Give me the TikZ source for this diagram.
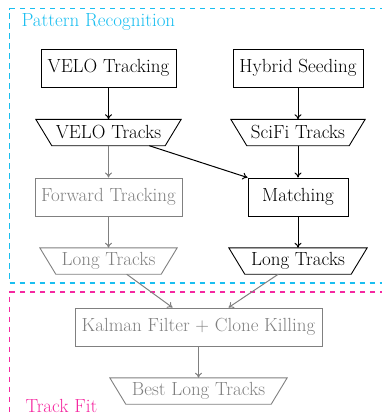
\documentclass[tikz,border=0pt]{standalone}
\usetikzlibrary{arrows.meta}
\definecolor{prblue}{RGB}{25,190,240}
\definecolor{tfpink}{RGB}{245,40,160}
\begin{document}
\begin{tikzpicture}[x=1pt,y=-1pt,
  every node/.style={font=\fontsize{19}{22}\selectfont},
  algbox/.style={draw,line width=0.9pt,inner sep=0pt,minimum height=38pt},
  trapbox/.style={inner sep=0pt,minimum height=26pt},
  arr/.style={line width=1pt,-{To[length=5pt,width=7pt]}},
  faded/.style={draw=gray,text=gray},
  regionline/.style={line width=1.4pt,dash pattern=on 5.5pt off 4.5pt}
]
\useasboundingbox (0,0) rectangle (382,416);
% region frames
\coordinate (pra) at (395,8.5);
\coordinate (prb) at (9.6,8.5);
\coordinate (prc) at (9.6,283);
\coordinate (prd) at (395,283);
\coordinate (tfa) at (395,292);
\coordinate (tfb) at (9.6,292);
\coordinate (tfc) at (9.6,430);
\draw[regionline,draw=prblue] (pra) -- (prb) -- (prc) -- (prd);
\draw[regionline,draw=tfpink] (tfa) -- (tfb) -- (tfc);
\node[text=prblue,anchor=base west] (prl) at (18,26) {Pattern Recognition};
\node[text=tfpink,anchor=base west] (tfl) at (22,412) {Track Fit};
% nodes
\node[algbox,minimum width=135pt] (velo) at (108.5,68) {VELO Tracking};
\node[algbox,minimum width=130pt] (hyb) at (298,68) {Hybrid Seeding};
\node[trapbox,minimum width=145pt] (vtr) at (108.5,132.5) {VELO Tracks};
\node[trapbox,minimum width=134pt] (str) at (298,132.5) {SciFi Tracks};
\node[algbox,faded,minimum width=147pt] (fwd) at (108.5,197) {Forward Tracking};
\node[algbox,minimum width=100pt] (match) at (298,197) {Matching};
\node[trapbox,text=gray,minimum width=137pt] (ltg) at (108.5,261) {Long Tracks};
\node[trapbox,minimum width=138pt] (ltb) at (298,261) {Long Tracks};
\node[algbox,faded,minimum width=247pt] (kal) at (198.5,327) {Kalman Filter + Clone Killing};
\node[trapbox,text=gray,minimum width=177pt] (best) at (198.5,391) {Best Long Tracks};
% trapezium outlines
\foreach \n/\c in {vtr/black,str/black,ltg/gray,ltb/black,best/gray}{
  \draw[\c,line width=0.9pt] (\n.north west) -- (\n.north east)
    -- ([xshift=-16pt]\n.south east) -- ([xshift=16pt]\n.south west) -- cycle;
}
% connectors
\draw[arr] (velo) -- (vtr);
\draw[arr] (hyb) -- (str);
\draw[arr,gray] (vtr) -- (fwd);
\draw[arr] (vtr) -- (match.north west);
\draw[arr] (str) -- (match);
\draw[arr,gray] (fwd) -- (ltg);
\draw[arr] (match) -- (ltb);
\draw[arr,gray] (ltg) -- ([xshift=-26pt]kal.north);
\draw[arr,gray] (ltb) -- ([xshift=30pt]kal.north);
\draw[arr,gray] (kal) -- (best);
\end{tikzpicture}
\end{document}
